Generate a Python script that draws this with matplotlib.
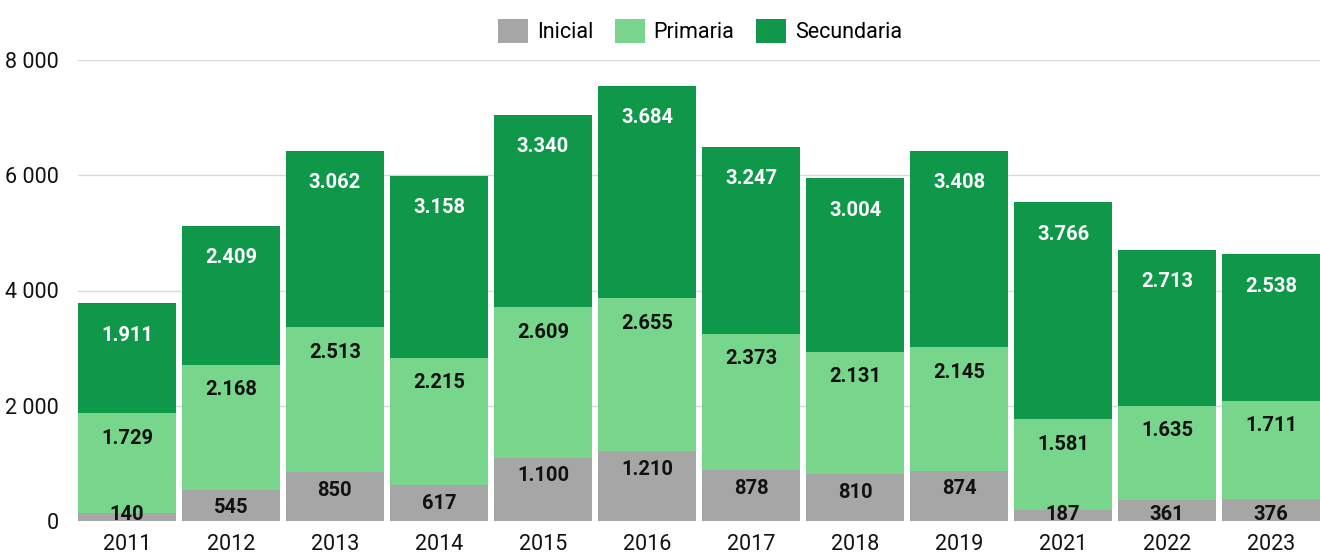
import numpy as np
import matplotlib.pyplot as plt
from matplotlib.ticker import FuncFormatter

plt.rcParams['font.family'] = ['Roboto', 'DejaVu Sans']

years = ["2011", "2012", "2013", "2014", "2015", "2016", "2017", "2018", "2019", "2021", "2022", "2023"]
inicial = [140, 545, 850, 617, 1100, 1210, 878, 810, 874, 187, 361, 376]
primaria = [1729, 2168, 2513, 2215, 2609, 2655, 2373, 2131, 2145, 1581, 1635, 1711]
secundaria = [1911, 2409, 3062, 3158, 3340, 3684, 3247, 3004, 3408, 3766, 2713, 2538]

# name, values, bar colour, label colour, label offset below segment top (px)
series = [("Inicial", inicial, "#a6a6a6", "#111111", 18),
          ("Primaria", primaria, "#77d68b", "#111111", 25),
          ("Secundaria", secundaria, "#10984a", "white", 32)]


def fmt_thousands(v):
    return f"{v:,}".replace(",", ".")


fig = plt.figure(figsize=(13.2, 5.53), dpi=100)
ax = fig.add_axes([78 / 1320, 32 / 553, 1242 / 1320, 461 / 553])

x = np.arange(len(years))
bottom = np.zeros(len(years))
px_per_unit = 461 / 8000

handles = []
for name, vals, color, tcolor, offset in series:
    vals = np.array(vals)
    h = ax.bar(x, vals, bottom=bottom, width=0.94, color=color, label=name, zorder=2)
    handles.append(h)
    tops = bottom + vals
    for xi, top, v in zip(x, tops, vals):
        y = top - offset / px_per_unit
        y = max(y, 6 / px_per_unit)
        ax.text(xi, y, fmt_thousands(int(v)), ha="center", va="center",
                fontsize=14.5, fontweight="bold", color=tcolor, zorder=3)
    bottom = tops

ax.set_xlim(-0.47, len(years) - 0.53)
ax.set_ylim(0, 8000)
ax.set_yticks([0, 2000, 4000, 6000, 8000])
ax.yaxis.set_major_formatter(FuncFormatter(lambda v, p: f"{int(v):,}".replace(",", " ")))
ax.set_xticks(x)
ax.set_xticklabels(years)
ax.tick_params(axis="both", length=0, labelsize=15.5, colors="#111111")
ax.tick_params(axis="y", pad=14)
ax.tick_params(axis="x", pad=9)
ax.grid(axis="y", color="#d9d9d9", linewidth=1, zorder=0)
for s in ax.spines.values():
    s.set_visible(False)

fig.legend(handles=handles, loc="center", bbox_to_anchor=(700 / 1320, 1 - 31 / 553),
           ncol=3, frameon=False, fontsize=15.5, handlelength=1.4, handleheight=1.4,
           handletextpad=0.4, columnspacing=1.0)

fig.savefig("out.png", dpi=100)
